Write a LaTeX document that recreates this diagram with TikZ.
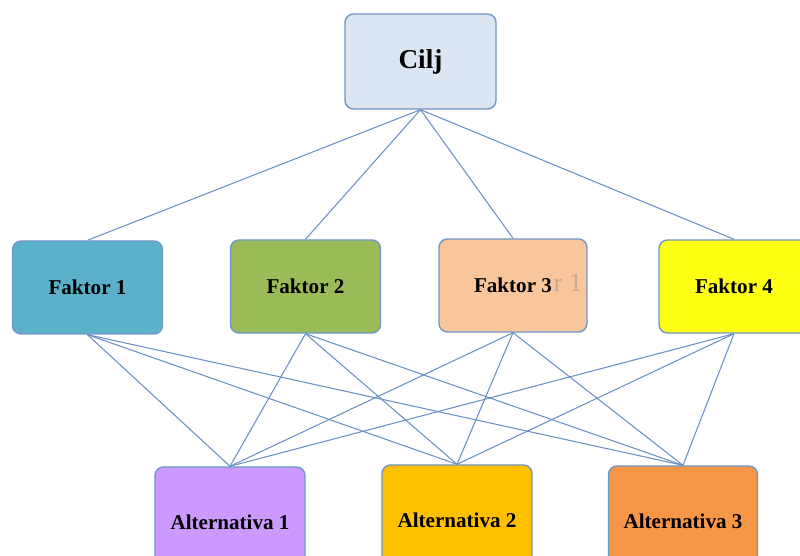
\documentclass[tikz,border=0pt]{standalone}
\usepackage{fontspec}
\setmainfont{Liberation Serif}
\definecolor{boxline}{HTML}{6F97C8}
\definecolor{linkblue}{HTML}{6A90C4}
\definecolor{ciljfill}{HTML}{DCE6F2}
\definecolor{fone}{HTML}{5BB1CA}
\definecolor{ftwo}{HTML}{9BBB59}
\definecolor{fthree}{HTML}{F9C69C}
\definecolor{ffour}{HTML}{FFFF14}
\definecolor{aone}{HTML}{CC99FF}
\definecolor{atwo}{HTML}{FFC000}
\definecolor{athree}{HTML}{F79646}
\definecolor{ghostgray}{HTML}{C8A88E}
\begin{document}
\begin{tikzpicture}[
        box/.style={draw=boxline, line width=0.8pt, rounded corners=0.17cm,
            minimum width=3cm, minimum height=1.86cm, font=\bfseries\fontsize{12}{14}\selectfont},
        link/.style={draw=linkblue, line width=0.6pt}
    ]
        \useasboundingbox (0,0) rectangle (16,11.12);

        \node[box, fill=ciljfill, minimum width=3.02cm, minimum height=1.9cm,
            font=\bfseries\fontsize{15.5}{18}\selectfont] (cilj) at (8.41,9.89) {Cilj};

        \node[box, fill=fone] (f1) at (1.75,5.37) {Faktor 1};
        \node[box, fill=ftwo] (f2) at (6.11,5.39) {Faktor 2};
        \node[box, fill=fthree, minimum width=2.96cm] (f3) at (10.26,5.41) {};
        \node[text=ghostgray, font=\fontsize{15}{18}\selectfont] (ghost) at (11.36,5.46) {r 1};
        \node[font=\bfseries\fontsize{12}{14}\selectfont] (f3text) at (f3.center) {Faktor 3};
        \node[box, fill=ffour] (f4) at (14.68,5.39) {Faktor 4};

        \node[box, fill=aone, minimum height=2.2cm] (a1) at (4.6,0.68) {Alternativa 1};
        \node[box, fill=atwo, minimum height=2.2cm] (a2) at (9.14,0.72) {Alternativa 2};
        \node[box, fill=athree, minimum height=2.2cm, minimum width=2.98cm] (a3) at (13.66,0.70) {Alternativa 3};

        \draw[link] (cilj.south) -- (f1.north);
        \draw[link] (cilj.south) -- (f2.north);
        \draw[link] (cilj.south) -- (f3.north);
        \draw[link] (cilj.south) -- (f4.north);

        \draw[link] (f1.south) -- (a1.north);
        \draw[link] (f1.south) -- (a2.north);
        \draw[link] (f1.south) -- (a3.north);
        \draw[link] (f2.south) -- (a1.north);
        \draw[link] (f2.south) -- (a2.north);
        \draw[link] (f2.south) -- (a3.north);
        \draw[link] (f3.south) -- (a1.north);
        \draw[link] (f3.south) -- (a2.north);
        \draw[link] (f3.south) -- (a3.north);
        \draw[link] (f4.south) -- (a1.north);
        \draw[link] (f4.south) -- (a2.north);
        \draw[link] (f4.south) -- (a3.north);
    \end{tikzpicture}
\end{document}
